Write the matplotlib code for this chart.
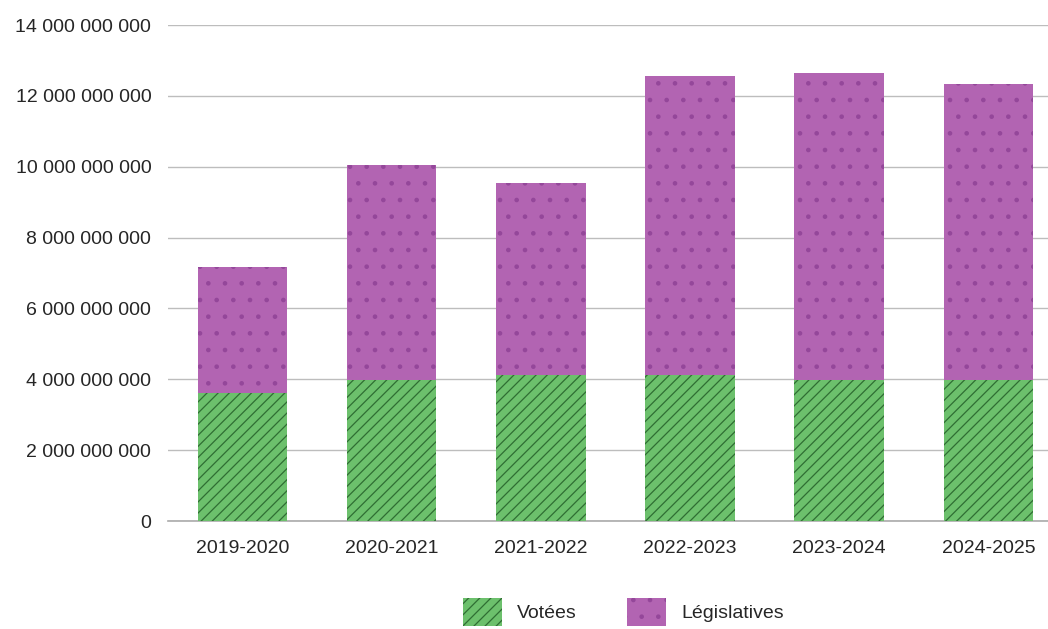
import matplotlib.pyplot as plt

plt.rcParams['font.family'] = ['Liberation Sans', 'DejaVu Sans']
plt.rcParams['hatch.linewidth'] = 0.9

# values
years = ['2019-2020', '2020-2021', '2021-2022', '2022-2023', '2023-2024', '2024-2025']
votees = [3.61e9, 3.98e9, 4.12e9, 4.12e9, 3.98e9, 3.98e9]
totals = [7.17e9, 10.05e9, 9.54e9, 12.56e9, 12.64e9, 12.33e9]
legislatives = [t - v for t, v in zip(totals, votees)]
y_ticks = [0, 2e9, 4e9, 6e9, 8e9, 10e9, 12e9, 14e9]


def fmt(v):
    # French style thousand separator with spaces
    return f"{int(v):,}".replace(",", " ")


fig = plt.figure(figsize=(10.48, 6.29), dpi=100)
ax = fig.add_axes([168 / 1048, 108 / 629, 880 / 1048, 496 / 629])

x = range(len(years))
ax.bar(x, votees, width=0.6, color='#6cc06c', edgecolor='#2f6e33',
       linewidth=0, hatch='///', label='Votées', zorder=2)
ax.bar(x, legislatives, bottom=votees, width=0.6, color='#b264b2',
       edgecolor='#94479a', linewidth=0, hatch='.', label='Législatives', zorder=2)

ax.set_xlim(-0.5, 5.4)
ax.set_ylim(0, 14e9)
ax.set_yticks(y_ticks)
ax.set_yticklabels([fmt(v) for v in y_ticks])
ax.set_xticks(list(x))
ax.set_xticklabels(years)
ax.tick_params(axis='both', length=0, labelsize=14, colors='#262626')
ax.tick_params(axis='y', pad=12)
ax.tick_params(axis='x', pad=14)
ax.grid(axis='y', color='#bdbdbd', linewidth=1, zorder=0)
ax.axhline(0, color='#aaaaaa', linewidth=1.2, zorder=1, clip_on=False)
ax.set_axisbelow(True)
for s in ax.spines.values():
    s.set_visible(False)

fig.legend(loc='center', bbox_to_anchor=(0.595, 0.027), ncol=2, frameon=False,
           fontsize=14, handlelength=2.0, handleheight=1.9,
           handletextpad=0.8, columnspacing=2.6, labelcolor='#262626')

plt.savefig('out.png', dpi=100)
